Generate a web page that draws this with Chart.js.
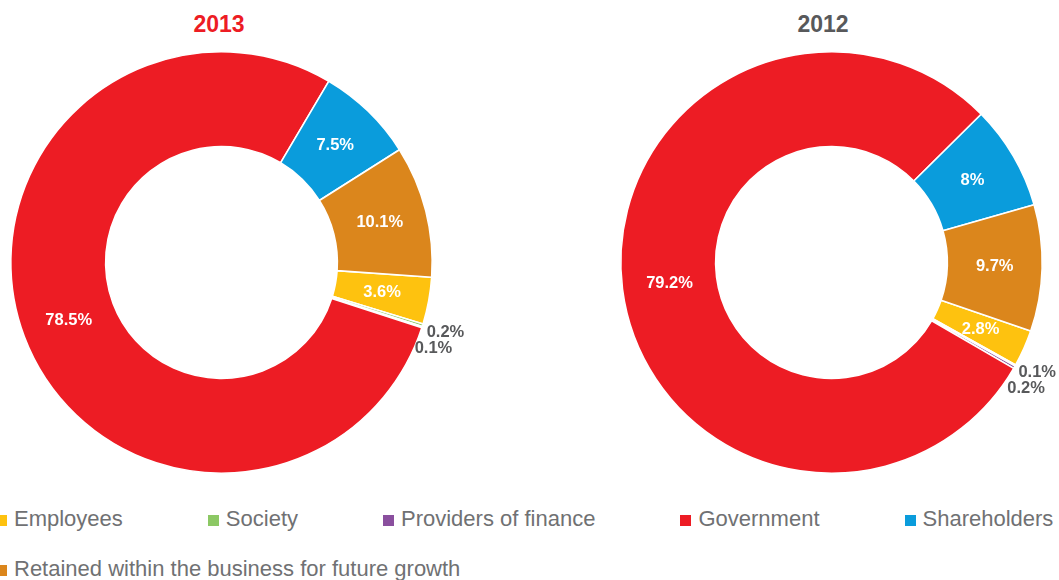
<!DOCTYPE html>
<html>
<head>
<meta charset="utf-8">
<script src="https://cdn.jsdelivr.net/npm/chart.js@4.4.1/dist/chart.umd.min.js"></script>
<style>
    html, body { margin: 0; padding: 0; background: #fff; }
    body { width: 1059px; height: 580px; position: relative; overflow: hidden;
           font-family: 'Liberation Sans', Helvetica, Arial, sans-serif; }
    .year { position: absolute; top: 10px; font-size: 23px; font-weight: bold; width: 120px;
            text-align: center; line-height: 28px; }
    .box { position: absolute; top: 0; height: 500px; }
    #legend { position: absolute; left: -4px; top: 506px; width: 1080px; display: flex;
              flex-wrap: wrap; column-gap: 85px; row-gap: 24px; }
    #legend .item { display: flex; align-items: center; height: 26px; font-size: 22px;
                    color: #707173; white-space: nowrap; }
    #legend .sw { width: 11px; height: 11px; margin-right: 7px; margin-top: 2px; }
</style>
</head>
<body>
<div class="year" style="left:159px;color:#ed1c24">2013</div>
<div class="year" style="left:763px;color:#58595b">2012</div>
<div class="box" style="left:0;width:529px"><canvas id="chart-2013"></canvas></div>
<div class="box" style="left:529px;width:530px"><canvas id="chart-2012"></canvas></div>
<div id="legend"></div>

<script>
// value added split, percent of total
const categories = ['Employees', 'Society', 'Providers of finance', 'Government', 'Shareholders',
    'Retained within the business for future growth'];
const share2013 = [3.6, 0.2, 0.1, 78.5, 7.5, 10.1];
const share2012 = [2.8, 0.1, 0.2, 79.2, 8, 9.7];
const colours = ['#fec20f', '#8cc864', '#8a4f9e', '#ed1c24', '#0a9cdc', '#db861c'];

// labels: white inside the ring, small slices stacked outside
const sliceLabels = {
    id: 'sliceLabels',
    afterDatasetsDraw(chart) {
        const ctx = chart.ctx;
        const meta = chart.getDatasetMeta(0);
        const data = chart.data.datasets[0].data;
        let stack = null;
        ctx.save();
        ctx.font = 'bold 16.5px "Liberation Sans", Helvetica, Arial, sans-serif';
        ctx.textBaseline = 'middle';
        meta.data.forEach(function (arc, i) {
            const p = arc.getProps(['x', 'y', 'startAngle', 'endAngle', 'innerRadius', 'outerRadius'], true);
            const mid = (p.startAngle + p.endAngle) / 2;
            const text = data[i] + '%';
            if (data[i] >= 1) {
                const r = (p.innerRadius + p.outerRadius) / 2;
                ctx.fillStyle = '#fff';
                ctx.textAlign = 'center';
                ctx.fillText(text, p.x + Math.cos(mid) * r, p.y + Math.sin(mid) * r);
            } else {
                if (!stack) {
                    stack = {
                        x: p.x + Math.cos(mid) * p.outerRadius + 4,
                        y: p.y + Math.sin(mid) * p.outerRadius + 7
                    };
                } else {
                    stack.x -= 12;
                    stack.y += 16;
                }
                // keep the text inside the canvas
                const x = Math.min(stack.x, chart.width - ctx.measureText(text).width - 3);
                ctx.fillStyle = '#58595b';
                ctx.textAlign = 'left';
                ctx.fillText(text, x, stack.y);
            }
        });
        ctx.restore();
    }
};

function makeDonut(id, values, rotation, padding) {
    return new Chart(document.getElementById(id), {
        type: 'doughnut',
        data: {
            labels: categories,
            datasets: [{
                data: values,
                backgroundColor: colours,
                borderColor: '#ffffff',
                borderWidth: 1.6
            }]
        },
        options: {
            responsive: true,
            maintainAspectRatio: false,
            animation: false,
            cutout: '55%',
            rotation: rotation,
            layout: { padding: padding },
            plugins: {
                legend: { display: false },
                tooltip: { enabled: false }
            }
        },
        plugins: [sliceLabels]
    });
}

makeDonut('chart-2013', share2013, 94, { left: 10, right: 96, top: 51, bottom: 26 });
makeDonut('chart-2012', share2012, 109, { left: 91, right: 16, top: 51, bottom: 26 });

// legend below both rings
const legend = document.getElementById('legend');
categories.forEach(function (name, i) {
    const item = document.createElement('div');
    item.className = 'item';
    item.innerHTML = '<span class="sw" style="background:' + colours[i] + '"></span>' + name;
    legend.appendChild(item);
});
</script>
</body>
</html>
